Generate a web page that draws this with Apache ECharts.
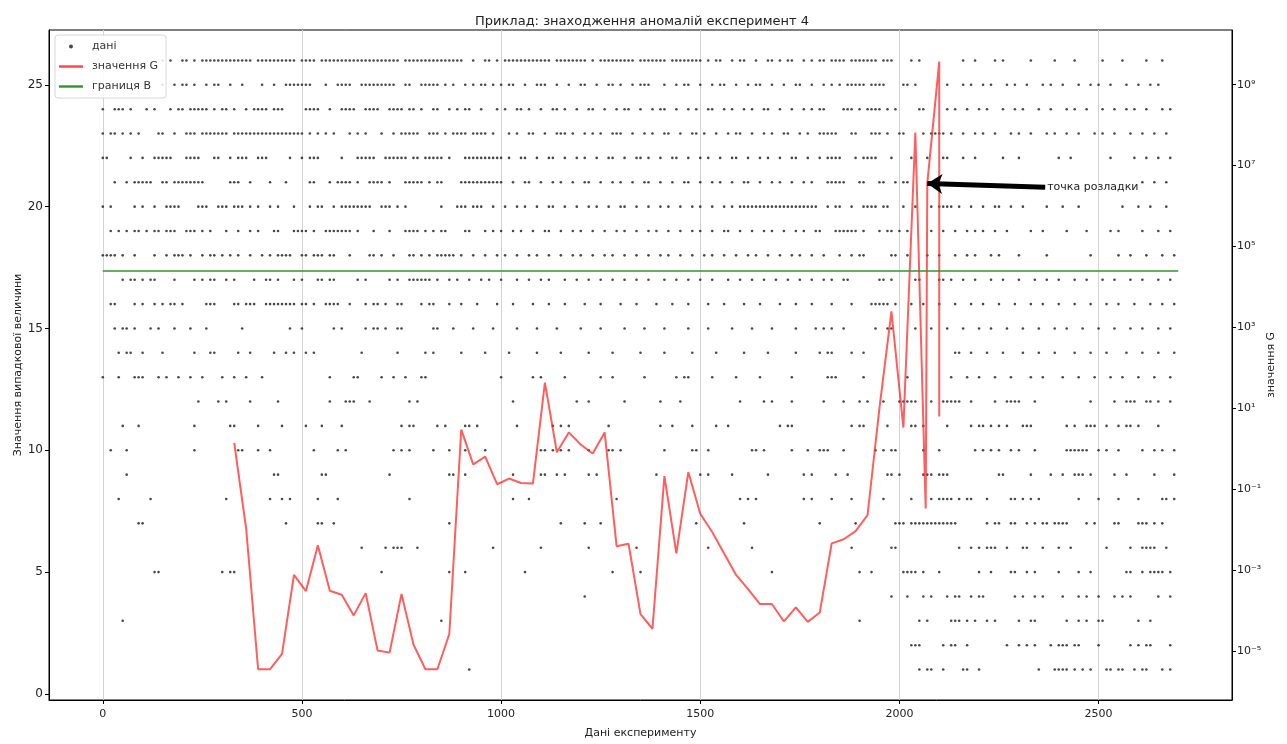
<!DOCTYPE html>
<html>
<head>
<meta charset="utf-8">
<title>Приклад</title>
<script src="https://cdn.jsdelivr.net/npm/echarts/dist/echarts.min.js"></script>
<style>
html,body{margin:0;padding:0;background:#fff;}
#chart{width:1287px;height:744px;}
</style>
</head>
<body>
<div id="chart"></div>
<script>
// ---------- data ----------
const xTicks = [0, 500, 1000, 1500, 2000, 2500];
const yLeftTicks = [0, 5, 10, 15, 20, 25];
const gTickExp = [-5, -3, -1, 1, 3, 5, 7, 9];

// G values (log10) along the experiment
const gX = [330,360,390,420,450,480,510,540,570,600,630,660,690,720,750,780,810,840,870,900,
  930,960,990,1020,1050,1080,1110,1140,1170,1200,1230,1260,1290,1320,1350,1380,1410,1440,1470,1500,
  1530,1560,1590,1620,1650,1680,1710,1740,1770,1800,1830,1860,1890,1920,1950,1980,2010,2040,2066,2070,2100,2100];
const gLog = [0.15,-1.97,-5.44,-5.44,-5.06,-3.11,-3.51,-2.38,-3.50,-3.60,-4.11,-3.56,-4.98,-5.03,-3.58,-4.83,-5.44,-5.44,-4.57,0.48,
  -0.38,-0.19,-0.87,-0.73,-0.84,-0.85,1.64,-0.08,0.41,0.11,-0.11,0.41,-2.40,-2.34,-4.08,-4.44,-0.67,-2.58,-0.57,-1.60,
  -2.05,-2.58,-3.11,-3.46,-3.83,-3.83,-4.26,-3.91,-4.27,-4.04,-2.33,-2.23,-2.03,-1.63,1.02,3.40,0.53,7.82,-1.47,6.56,9.57,0.80];

// threshold B (log10 of G)
const bLimitLog = 4.40;
const bLimitX = [0, 2700];

// annotation
const annotText = 'точка розладки';
const annotFrom = [2366, 20.8];
const annotTo = [2070, 20.95];

// scatter: one entry per value level; positions are x/10 (ranges a-b = consecutive dots)
const rowY = [26,25,24,23,22,21,20,19,18,17,16,15,14,13,12,11,10,9,8,7,6,5,4,3,2,1];
const rowBins = [
  // 26
  "15,17,20,21,23,25-37,39-48,50-53,55-74,76-87,88-90,93,96,97,99,101-112,114-121,123,125-133,135-141,143-150,152,154,155,158,160,161,164,167,168,170,172,173,176,178,180,181,183-186,188-194,196-198,203,205,216,219,224,226,233,239,244,251,256,262,266",
  // 25
  "15,18,20,21,23,26,28,29,32,35,40,43,46-52,56,59-62,65-73,76,77,80-84,86,88,91,93,95,96,98,100,102,103,106,109-111,114,117,120,121,124,127,128,130,133,135-137,141,144,146,147,150,153,155,156,159,162,164,165,168,171,174,175,178,181,183,185,187-191,193-196,201,202,204,212,216,218,221,223,227,229,232,236,238,241,245,248,250,253,257,260,263,265",
  // 24
  "0,3,4,5,7,11,13,17,19,20,22-26,28,30,31,33,36,38-41,43-45,51-54,57,60-63,66-69,72-75,77,78,80,83,84,87,89,91,92,95,99,101,104,105,107,110,113,114,116,119,122,123,126,129,131,132,135,138,140,141,144,147,149,152,153,156,158,161,163,166,167,170,173,176,178,180,181,186-188,190,192-195,197,199,205,206,212,214,217,220,222,226,229,231,235,238,242,244,247,251,254,257,259,262,266,268",
  // 23
  "0,2,3,5,7,9,14,15,18,21-23,25-31,33-50,52,54,56,58,62,64,66,70,73,75-79,82-84,86,88-91,93-96,98,102,104,107,108,111,114-116,118,121,123,125,128-130,133,136,138,141,142,145,148,149,151,154,157,159,160,163,166,168,171,172,175,177,180-184,188,189,193-195,197,200,201,206,208-211,213,216,219,221,224,228,230,233,237,239,242,245,249,251,254,258,261,264,267",
  // 22
  "0,1,7,10,13-17,21-24,28,29,32,34-36,39-41,47,50,52-54,60,64-68,71-76,78,79,81-85,87,91-100,102,105,106,109,112,113,116,119,121,124,127,128,131,134,135,137,140,143,144,147,150,152,155,158,159,162,165,167,170,173,174,177,180,182-185,189,191-194,198,203,207,211,212,216,219,226,230,240,243,253,259,262,265,268",
  // 21
  "3,6,8-12,15,16,18-25,32-34,37,42,46,52,53,57,59-62,64,67-70,72,76-80,82,84,85,90-100,103,106,107,110,113,115,118,121,122,125,128,130,133,136,137,140,143,146,147,150,153,155,158,161,162,165,168,170,173,176,178,182-186,190,191,195,196,199,201,202,261,264,267",
  // 20
  "0,2,8,10,13,16-19,24-26,29,30,31,33,34,35,37,39,42,44,48,52,54,55,58,60-67,70-72,74,76,85,89-91,93-95,98,101,104,106,109,112,113,116,119,122,124,127,130,131,134,137,140,142,145,148,150,153,156,158,160-179,182,184,185,188,191-194,196,197,201,204,208,210-213,215,218,221,224,225,228,231,237,241,245,256,260,263,267",
  // 19
  "2,4,6,8,9,11,13,14,16,17,18,21,22,23,25,27,31,34,37,39,43,44,48-51,53,56-62,64,68,72,76-79,81,83,85,86,91,92,96,98,100,103,105,108,111,112,115,118,120,123,126,129,131,134,137,139,142,145,148,150,153,156,157,160,163,166,168,171,174,176,179,180,184-189,191,195,197,198,200,202,208,211,214,217,219,221,224,227,233,236,242,247,253,255,261,265,268",
  // 18
  "0-3,5,8,13,16,18,19,20,22,25,27,28,30,32,34,37,40,42,44-47,50,51,53,54,55,57,58,62,67,68,70,73,77,78,80,82,84-87,88,90,93,96,99,101,104,107,109,112,115,118,120,123,126,128,131,134,137,140,142,145,148,151,153,156,159,162,164,167,170,173,175,178,181,185,188,190,191,198,199,202,207,210,214,217,219,223,225,230,237,248,255,258,262,266,269",
  // 17
  "5,7,8,10,12,13,18,23,25,27,28,31,33,38,41,42,44,48,50,54,55,57,58,64,66,72,74,77-82,84,87,89,92,95,97,100,104,107,110,112,116,119,122,125,128,131,134,137,141,144,147,150,153,157,160,163,166,169,172,175,178,181,183,186,187,195,196,198,204,205,210,211,213,216,219,223,226,230,234,237,240,244,247,251,254,258,261,265,268",
  // 16
  "2,3,8,10,13,15,17,18,20,26,27,28,33,34,36,37,38,41-48,50,51,53,56-59,62,66,68,69,71,74,75,80,82,83,87,90,94,99,103,108,112,116,121,125,130,134,139,143,147,152,156,161,165,170,174,178,183,188,193-197,199,203,206,210,214,218,221,225,229,233,236,240,244,248,252,255,259,263,266,269",
  // 15
  "3,5,6,8,12,14,18,22,26,35,47,50,58,60,66,68,69,71,74,75,83,84,88,93,98,104,109,114,120,125,131,136,141,147,152,158,163,168,174,179,181,183,186,194,197,198,204,208,212,216,220,223,227,231,235,239,242,246,250,254,258,261,265,268",
  // 14
  "4,6,7,10,15,23,27,28,34,37,43,46,48,51,53,65,74,81,83,90,96,102,109,115,122,128,135,141,148,154,161,167,174,180,182,183,188,191,214,215,218,222,226,231,235,239,244,248,252,257,261,265,269",
  // 13
  "0,4,8,9,10,14,16,19,22,25,30,33,36,40,57,63,64,70,73,76,80,81,100,108,110,116,125,128,136,144,146,147,153,159,165,173,182-184,191,202,213,217,220,224,228,233,236,241,245,249,253,256,260,264,268",
  // 12
  "24,29,31,37,44,57,61,62,63,67,77,79,103,119,122,131,140,145,160,166,168,173,181,186,190,192,196,201-203,212-214,200,204,208,211,215,218,224,227-230,234,248,254,257-259,262,263,265,268",
  // 11
  "5,9,23,32,33,39,45,51,55,60,75,77,78,84,86,91,92,94,104,113,115,117,127,140,143,148,154,157,170,172,173,188,190,191,197,203,204,206,212,218,220,221,223,225,227,231,232,233,242,244,247,248,249,252,255,257,258,260,265",
  // 10
  "2,6,23,34,35,39,42,53,59,61,73,75,77,83,87,91,96,110,111,113,115,117,122,127,128,130,141,148,149,152,163,164,166,173,177,181,180,182,186,194,196,198,210,199,206,219,221,223,225,228,230,234,242-247,250,252,255,261,264,266,269",
  // 9
  "6,43,44,55,56,72,87,88,91,103,110,111,114,116,122,124,139,150,152,158,167,176,178,184,187,197,198,206,208,210,211,200,207,212,225,226,233,238,241,244,245,246,248,254,257,264,269",
  // 8
  "4,12,31,42,45,47,54,59,77,103,107,129,160,162,164,176,178,183,188,203,208,210,212,196,211,213,215,217,218,222,228,229,231,233,235,245,250,255,260,266,267,269",
  // 7
  "9,10,46,54,55,58,87,115,121,125,149,161,180,189,199,200,203-213,201,214,222,224,225,228,229,232,234,236,237,239,240,241,242,247,249,254,255,260,261,262,264,266",
  // 6
  "65,71,73,74,75,79,98,110,122,134,152,163,188,198,199,215,218,220,222,223,224,227,231,232,236,240,243,252,258,261,262,263,264,267",
  // 5
  "13,14,30,32,33,70,87,91,106,128,135,168,190,193,201,202,203,206,210,204,220,223,228,229,232,234,240,245,248,257,258,261,263,264,265,266,268",
  // 4
  "121,198,202,206,208,212,214,215,218,220,221,229,231,234,236,241,245,247,250,254,256,258,265,268",
  // 3
  "5,85,190,205,207,213,214,215,217,219,222,224,230,233,234,242,245,247,250,251,260,263",
  // 2
  "203,204,205,211,213,214,217,227,230,232,234,238,240,241,242,244,245,250,258,260,262,263,268",
  // 1
  "92,205,207,211,208,216,217,220,235,239,240,241,242,244,246,248,252,253,255,256,259,261,262,266,268"
];

// ---------- build ----------
function parseBins(s) {
  const out = new Set();
  s.split(',').forEach(t => {
    t = t.trim();
    if (!t) return;
    if (t.indexOf('-') > 0) {
      const p = t.split('-').map(Number);
      for (let i = p[0]; i <= p[1]; i++) out.add(i);
    } else out.add(Number(t));
  });
  return Array.from(out).sort((a, b) => a - b);
}
const scatterData = [];
rowY.forEach((y, k) => {
  parseBins(rowBins[k]).forEach(b => scatterData.push([b * 10, y]));
});
const gData = gX.map((x, i) => [x, gLog[i]]);
const bData = bLimitX.map(x => [x, bLimitLog]);

const SUP = {'-':'\u207B','0':'\u2070','1':'\u00B9','2':'\u00B2','3':'\u00B3','4':'\u2074','5':'\u2075','6':'\u2076','7':'\u2077','8':'\u2078','9':'\u2079'};
function powLabel(v) {
  return '10' + String(Math.round(v)).split('').map(c => SUP[c]).join('');
}

const FONT = 'DejaVu Sans';
const lineIcon = 'path://M0,0L20,0L20,2L0,2Z';

const chart = echarts.init(document.getElementById('chart'), null, {renderer: 'canvas'});
chart.setOption({
  animation: false,
  backgroundColor: '#fff',
  textStyle: {fontFamily: FONT},
  title: {
    text: 'Приклад: знаходження аномалій експеримент 4',
    left: 637, top: 10, textAlign: 'center',
    textStyle: {fontSize: 13, fontWeight: 'normal', color: '#222', fontFamily: FONT}
  },
  legend: {
    orient: 'vertical', left: 55, top: 35,
    itemWidth: 24, itemHeight: 4, itemGap: 9,
    padding: [6, 8, 6, 4],
    backgroundColor: 'rgba(255,255,255,0.85)',
    borderColor: '#d6d6d6', borderWidth: 1, borderRadius: 3,
    textStyle: {fontSize: 11, color: '#333', fontFamily: FONT, padding: [0, 0, 0, 4]},
    data: [
      {name: 'дані', icon: 'circle'},
      {name: 'значення G', icon: lineIcon},
      {name: 'границя B', icon: lineIcon}
    ]
  },
  grid: {left: 49, right: 55, top: 30, bottom: 38, show: true, borderColor: '#000', borderWidth: 1, backgroundColor: 'transparent'},
  xAxis: {
    type: 'value', min: -135, max: 2835,
    name: 'Дані експерименту', nameLocation: 'middle', nameGap: 28, nameMoveOverlap: false,
    nameTextStyle: {fontSize: 11, color: '#222', fontFamily: FONT},
    axisLine: {show: true, onZero: false, lineStyle: {color: '#000'}},
    axisTick: {show: true, length: 4, customValues: xTicks, lineStyle: {color: '#000'}},
    axisLabel: {customValues: xTicks, fontSize: 11, color: '#222', margin: 9, fontFamily: FONT, formatter: v => String(v)},
    splitLine: {show: true, lineStyle: {color: '#d3d3d3', width: 1}}
  },
  yAxis: [
    {
      type: 'value', position: 'left', min: -0.25, max: 27.25,
      name: 'Значення випадкової величини', nameLocation: 'middle', nameRotate: 90, nameGap: 25, nameMoveOverlap: false,
      nameTextStyle: {fontSize: 11, color: '#222', fontFamily: FONT},
      axisLine: {show: true, onZero: false, lineStyle: {color: '#000'}},
      axisTick: {show: true, length: 4, customValues: yLeftTicks, lineStyle: {color: '#000'}},
      axisLabel: {customValues: yLeftTicks, fontSize: 12, color: '#222', margin: 6, fontFamily: FONT, formatter: v => String(v)},
      splitLine: {show: false}
    },
    {
      type: 'value', position: 'right', min: -6.2, max: 10.35,
      name: 'значення G', nameLocation: 'middle', nameRotate: 90, nameGap: 34, nameMoveOverlap: false,
      nameTextStyle: {fontSize: 11, color: '#222', fontFamily: FONT},
      axisLine: {show: true, onZero: false, lineStyle: {color: '#000'}},
      axisTick: {show: true, length: 4, customValues: gTickExp, lineStyle: {color: '#000'}},
      axisLabel: {customValues: gTickExp, fontSize: 11, color: '#222', margin: 5, fontFamily: FONT, formatter: powLabel},
      splitLine: {show: false}
    }
  ],
  series: [
    {
      name: 'дані', type: 'scatter', yAxisIndex: 0,
      symbol: 'circle', symbolSize: 2.6,
      itemStyle: {color: '#1a1a1a'},
      data: scatterData, silent: true, z: 2
    },
    {
      name: 'значення G', type: 'line', yAxisIndex: 1,
      symbol: 'none', showSymbol: false,
      itemStyle: {color: '#ff4545'},
      lineStyle: {color: 'rgba(255,40,40,0.75)', width: 2},
      data: gData, silent: true, z: 3
    },
    {
      name: 'границя B', type: 'line', yAxisIndex: 1,
      symbol: 'none', showSymbol: false,
      itemStyle: {color: '#2f962f'},
      lineStyle: {color: '#2f962f', width: 1.5},
      data: bData, silent: true, z: 3
    },
    {
      name: 'annotation', type: 'line', yAxisIndex: 0, data: [], silent: true, z: 5,
      markLine: {
        silent: true, animation: false,
        symbol: ['none', 'arrow'], symbolSize: 15,
        lineStyle: {color: '#000', width: 5, type: 'solid'},
        label: {show: true, position: 'start', formatter: annotText, color: '#222', fontSize: 11, fontFamily: FONT, distance: 2},
        data: [[{coord: annotFrom}, {coord: annotTo}]]
      }
    }
  ]
});
</script>
</body>
</html>
